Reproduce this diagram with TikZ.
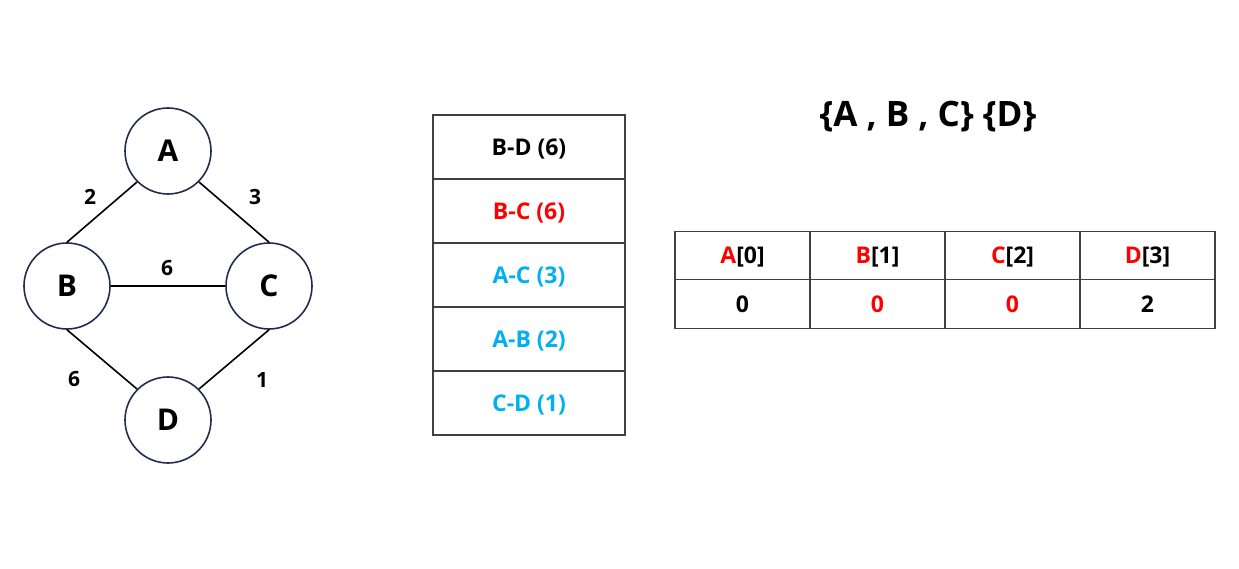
\documentclass[tikz,border=0pt]{standalone}
\usepackage{fontspec}
\setmainfont{Open Sans}
\definecolor{navy}{RGB}{31,46,76}
\definecolor{cyanB}{RGB}{0,176,240}
\definecolor{redA}{RGB}{255,0,0}
\definecolor{border}{RGB}{64,64,64}
\begin{document}
\begin{tikzpicture}[x=1pt,y=-1pt,
  vert/.style={circle,draw=navy,line width=1.6pt,minimum size=86pt,inner sep=0pt,font=\fontsize{30}{30}\selectfont\bfseries},
  edge/.style={line width=1.6pt},
  wlabel/.style={font=\fontsize{21}{21}\selectfont\bfseries},
  cell/.style={draw=border,line width=1.4pt,minimum width=192pt,minimum height=64pt,inner sep=0pt,text height=16.4pt,text depth=0pt,font=\fontsize{23}{23}\selectfont\bfseries},
  tcell/.style={draw=border,line width=1.4pt,minimum width=135pt,minimum height=48.5pt,inner sep=0pt,text height=16.4pt,text depth=0pt,font=\fontsize{23}{23}\selectfont\bfseries}]
\useasboundingbox[fill=white] (0,0) rectangle (1239,569);
% graph
\node[vert] (A) at (168,151) {A};
\node[vert] (B) at (67,286) {B};
\node[vert] (C) at (269,286) {C};
\node[vert] (D) at (168,420) {D};
\draw[edge] (A.225) -- (B.north);
\draw[edge] (A.-45) -- (C.north);
\draw[edge] (B) -- (C);
\draw[edge] (B.south) -- (D.135);
\draw[edge] (C.south) -- (D.45);
\node[wlabel] (w1) at (90,197) {2};
\node[wlabel] (w2) at (255,197) {3};
\node[wlabel] (w3) at (167,268) {6};
\node[wlabel] (w4) at (74,379) {6};
\node[wlabel] (w5) at (262,380) {1};
% stack
\node[cell] (s1) at (529,147) {B-D (6)};
\node[cell,text=redA] (s2) at (529,211) {B-C (6)};
\node[cell,text=cyanB] (s3) at (529,275) {A-C (3)};
\node[cell,text=cyanB] (s4) at (529,339) {A-B (2)};
\node[cell,text=cyanB] (s5) at (529,403) {C-D (1)};
% title
\node[font=\fontsize{35}{35}\selectfont\bfseries] (title) at (928,117) {\{A , B , C\} \{D\}};
% table
\node[tcell] (h1) at (742.5,255.5) {\textcolor{redA}{A}[0]};
\node[tcell] (h2) at (877.5,255.5) {\textcolor{redA}{B}[1]};
\node[tcell] (h3) at (1012.5,255.5) {\textcolor{redA}{C}[2]};
\node[tcell] (h4) at (1147.5,255.5) {\textcolor{redA}{D}[3]};
\node[tcell] (v1) at (742.5,304) {0};
\node[tcell,text=redA] (v2) at (877.5,304) {0};
\node[tcell,text=redA] (v3) at (1012.5,304) {0};
\node[tcell] (v4) at (1147.5,304) {2};
\end{tikzpicture}
\end{document}
